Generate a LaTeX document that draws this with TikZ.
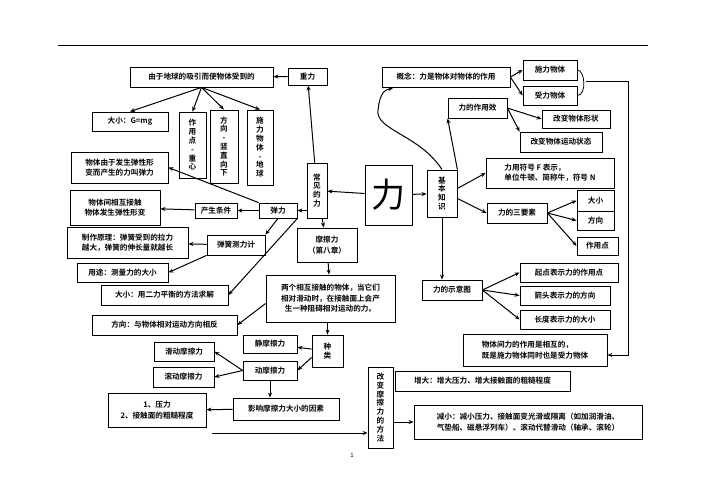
\documentclass[tikz,border=0pt]{standalone}
\usepackage{fontspec}
\setmainfont{Noto Sans CJK SC}[BoldFont={* Bold}]
\usetikzlibrary{arrows.meta}
\newcommand\bx[6]{\node[box,minimum width={(#4-#2)*1pt},minimum height={(#5-#3)*1pt}] (#1) at ({(#2+#4)/2},{(#3+#5)/2}) {#6};}
\newcommand\vx[6]{\node[box,font=\fontsize{7.6}{8.8}\selectfont\bfseries,minimum width={(#4-#2)*1pt},minimum height={(#5-#3)*1pt}] (#1) at ({(#2+#4)/2},{(#3+#5)/2}) {#6};}
\begin{document}
\begin{tikzpicture}[x=1pt,y=-1pt,
  box/.style={draw,line width=0.8pt,inner sep=1pt,align=center,font=\fontsize{7.6}{10.5}\selectfont\bfseries},
  arr/.style={-{Stealth[length=5pt,width=4pt]},line width=1pt}]
\useasboundingbox (0,0) rectangle (707,500);
\draw[line width=0.5pt] (58,45) -- (648,45);
% left part
\bx{g0}{130}{67}{273}{87}{由于地球的吸引而使物体受到的}
\bx{zl}{288}{68}{327}{85}{重力}
\bx{g1}{92}{112}{168}{131}{大小：G=mg}
\vx{g2}{179}{112}{206}{178}{作\\用\\点\\-\\重\\心}
\vx{g3}{210}{110}{238}{183}{方\\向\\-\\竖\\直\\向\\下}
\vx{g4}{247}{110}{273}{185}{施\\力\\物\\体\\-\\地\\球}
\vx{cj}{307}{163}{327}{218}{常\\见\\的\\力}
\bx{e0}{71}{152}{168}{183}{物体由于发生弹性形\\变而产生的力叫弹力}
\bx{e1}{70}{190}{160}{225}{物体间相互接触\\物体发生弹性形变}
\bx{tj}{195}{203}{237}{218}{产生条件}
\bx{tl}{259}{203}{297}{218}{弹力}
\bx{zz}{67}{227}{188}{258}{制作原理：弹簧受到的拉力\\越大，弹簧的伸长量就越长}
\bx{cl}{207}{235}{265}{255}{弹簧测力计}
\bx{mc}{297}{228}{357}{262}{摩擦力\\（第八章）}
\bx{yt}{77}{263}{168}{282}{用途：测量力的大小}
\bx{dx}{101}{285}{228}{305}{大小：用二力平衡的方法求解}
\bx{dy}{266}{275}{395}{322}{两个相互接触的物体，当它们\\相对滑动时，在接触面上会产\\生一种阻碍相对运动的力。}
\bx{fx}{92}{315}{237}{335}{方向：与物体相对运动方向相反}
\bx{jm}{243}{335}{297}{353}{静摩擦力}
\vx{zl2}{312}{335}{343}{367}{种\\类}
\bx{hd}{154}{342}{214}{361}{滑动摩擦力}
\bx{dm}{243}{361}{297}{380}{动摩擦力}
\bx{gd}{153}{367}{214}{387}{滚动摩擦力}
\bx{ys}{108}{393}{206}{427}{1、压力\hspace{3.5em}\\2、接触面的粗糙程度}
\bx{yx}{233}{398}{339}{420}{影响摩擦力大小的因素}
\vx{gb}{368}{367}{393}{448}{改\\变\\摩\\擦\\力\\的\\方\\法}
\bx{zd}{395}{371}{570}{391}{增大：增大压力、增大接触面的粗糙程度}
\node[box,align=left,minimum width=228pt,minimum height=34pt] (jx) at (528,422) {减小：减小压力、接触面变光滑或隔离（如加润滑油、\\气垫船、磁悬浮列车）、滚动代替滑动（轴承、滚轮）};
\coordinate (ls) at (212,433);
\node[font=\fontsize{6}{7}\selectfont] (pn) at (352,455) {1};
% right part
\node[draw,line width=0.8pt,minimum width=47pt,minimum height=60pt,font=\fontsize{34}{34}\selectfont] (li) at (388.5,195) {力};
\vx{jb}{427}{170}{457}{217}{基\\本\\知\\识}
\bx{gn}{382}{67}{510}{87}{概念：力是物体对物体的作用}
\bx{sl}{523}{60}{577}{80}{施力物体}
\bx{sh}{523}{86}{577}{105}{受力物体}
\bx{zx}{448}{98}{507}{118}{力的作用效}
\bx{x1}{542}{110}{610}{128}{改变物体形状}
\bx{x2}{520}{132}{602}{152}{改变物体运动状态}
\node[box,align=left,minimum width=128pt,minimum height=30pt] (fh) at (550,173) {力用符号 F 表示，\\单位牛顿、简称牛，符号 N};
\bx{sy}{487}{203}{547}{223}{力的三要素}
\bx{s1}{577}{190}{614}{211}{大小}
\bx{s2}{577}{211}{614}{230}{方向}
\bx{s3}{577}{237}{618}{255}{作用点}
\bx{sy2}{422}{280}{482}{300}{力的示意图}
\bx{q1}{520}{263}{618}{282}{起点表示力的作用点}
\bx{q2}{520}{286}{610}{305}{箭头表示力的方向}
\bx{q3}{520}{310}{610}{329}{长度表示力的大小}
\node[box,align=left,minimum width=144pt,minimum height=32pt] (xh) at (535,350) {物体间力的作用是相互的，\\既是施力物体同时也是受力物体};
% connectors
\draw[arr] (li) -- (cj);
\draw[arr] (li) -- (jb);
\draw[arr] (cj) -- (zl);
\draw[arr] (zl) -- (g0);
\draw[arr] (g0.south) -- (g1.north);
\draw[arr] (g0.south) -- (g2.north);
\draw[arr] (g0.south) -- (g3.north);
\draw[arr] (g0.south) -- (g4.north);
\draw[arr] (cj.west |- tl) -- (tl);
\draw[arr] (cj) -- (mc);
\draw[arr] (tl.north west) -- (e0.east);
\draw[arr] (tl) -- (tj);
\draw[arr] (tj) -- (e1);
\draw[arr] (tl.south) -- (cl.north east);
\draw[arr] (tl.south east) -- (dx.east);
\draw[arr] (cl) -- (zz);
\draw[arr] (cl.south west) -- (yt.east);
\draw[arr] (mc) -- (dy);
\draw[arr] (dy.west) ++(0,5) -- (fx.east);
\draw[arr] (dy.south -| zl2) -- (zl2);
\draw[arr] (zl2) -- (jm);
\draw[arr] (zl2.south west) ++(0,-10) -- (dm.east);
\draw[arr] (dm.west) -- (hd.east);
\draw[arr] (dm.west) -- (gd.east);
\draw[arr] (dm.south -| 270,0) -- (yx.north -| 270,0);
\draw[arr] (yx) -- (ys);
\draw[arr] (ls) -- (gb.west |- ls);
\draw[arr] (gb.east |- jx) -- (jx);
\draw[arr] (jb.north) .. controls (420,135) and (375,130) .. (378,110) .. controls (380,92) and (385,90) .. (393,88);
\draw[arr] (jb.north east) -- (zx.south west);
\draw[arr] (gn.east) -- (sl.west);
\draw[arr] (gn.east) -- (sh.west);
\draw[arr] (zx.east) -- (x1.west);
\draw[arr] (zx.east) -- (x2.north west);
\draw[arr] (jb.east) ++(0,-5) -- (fh.west);
\draw[arr] (jb.east) ++(0,5) -- (sy.west);
\draw[arr] (sy.east) -- (s1.west);
\draw[arr] (sy.east) -- (s2.west);
\draw[arr] (sy.east) -- (s3.west);
\draw[arr] (jb.south) -- (sy2.north -| jb);
\draw[arr] (sy2.east) -- (q1.west);
\draw[arr] (sy2.east) -- (q2.west);
\draw[arr] (sy2.east) -- (q3.west);
\draw[line width=0.8pt] (sl.east) .. controls (585,70) and (587,95) .. (sh.east);
\coordinate (rc) at (586,82);
\draw[arr] (rc) -- (628,82) -- (628,355) -- (xh.east |- 0,355);
\end{tikzpicture}
\end{document}
